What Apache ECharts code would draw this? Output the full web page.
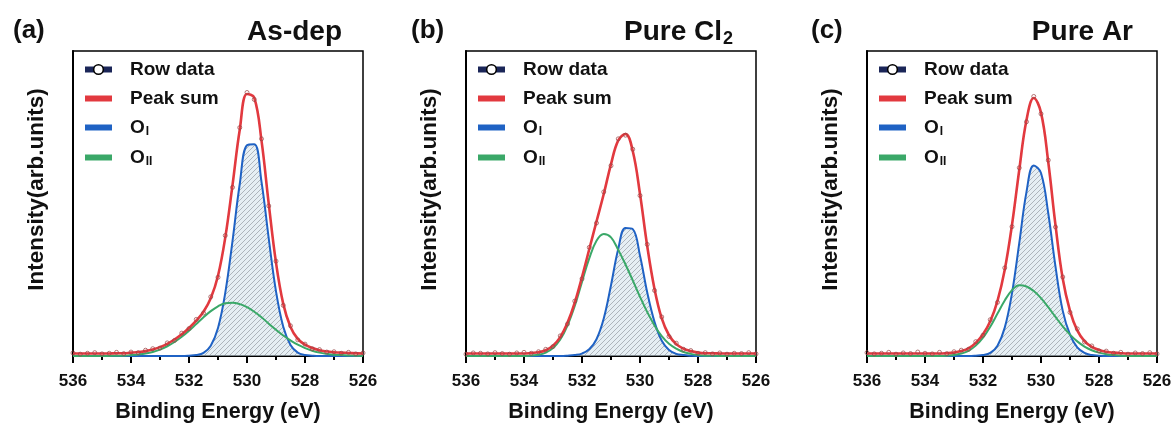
<!DOCTYPE html>
<html>
<head>
<meta charset="utf-8">
<script src="https://cdn.jsdelivr.net/npm/echarts@6/dist/echarts.min.js"></script>
<style>
  html, body { margin: 0; padding: 0; background: #fff; }
  #main { width: 1175px; height: 428px; }
</style>
</head>
<body>
<div id="main"></div>
<script>
// binding energy grid (eV), same for the three panels
const energy = [536, 535.75, 535.5, 535.25, 535, 534.75, 534.5, 534.25, 534, 533.75,
  533.5, 533.25, 533, 532.75, 532.5, 532.25, 532, 531.75, 531.5, 531.25,
  531, 530.75, 530.5, 530.25, 530, 529.75, 529.5, 529.25, 529, 528.75,
  528.5, 528.25, 528, 527.75, 527.5, 527.25, 527, 526.75, 526.5, 526.25, 526];

// (a) As-dep
const rawA = [1.0, 0.6, 0.9, 1.1, 0.7, 0.9, 1.2, 0.8, 1.3, 1.1, 1.9, 2.4, 2.6, 4.3, 5.1, 7.5, 9.0, 12.0, 14.1, 19.4,
  25.8, 39.5, 55.3, 74.9, 86.4, 84.1, 71.2, 49.2, 31.1, 16.6, 9.9, 5.3, 3.9, 2.4, 2.1, 1.3, 1.4, 0.9, 1.2, 0.7, 1.0];
const sumA = [0.8, 0.8, 0.8, 0.8, 0.8, 0.8, 0.9, 0.9, 1.1, 1.3, 1.6, 2.1, 2.9, 4.0, 5.4, 7.1, 9.2, 11.6, 14.5, 18.9,
  26.3, 38.8, 56.0, 74.2, 85.9, 84.7, 70.6, 49.9, 30.6, 17.1, 9.5, 5.6, 3.7, 2.6, 1.9, 1.5, 1.2, 1.1, 1.0, 0.9, 0.8];
const oIA = [0, 0, 0, 0, 0, 0, 0, 0, 0, 0, 0, 0, 0, 0, 0, 0, 0.1, 0.3, 1.0, 3.4,
  9.2, 20.7, 37.7, 56.4, 69.1, 69.4, 57.1, 38.5, 21.2, 9.6, 3.6, 1.1, 0.3, 0.1, 0, 0, 0, 0, 0, 0, 0];
const oIIA = [0, 0, 0, 0, 0, 0, 0.1, 0.1, 0.3, 0.5, 0.8, 1.3, 2.1, 3.2, 4.6, 6.3, 8.3, 10.5, 12.7, 14.7,
  16.3, 17.3, 17.5, 17.0, 16.0, 14.5, 12.7, 10.6, 8.6, 6.7, 5.1, 3.7, 2.6, 1.7, 1.1, 0.7, 0.4, 0.3, 0.2, 0.1, 0];

// (b) Pure Cl2
const rawB = [0.6, 1.0, 0.9, 0.7, 1.1, 0.8, 0.6, 1.0, 1.2, 0.9, 1.4, 2.2, 3.1, 6.6, 10.5, 18.0, 25.3, 35.6, 43.6, 53.8,
  62.4, 71.2, 72.4, 67.8, 52.6, 36.6, 21.5, 12.8, 6.4, 4.2, 2.2, 1.8, 0.9, 1.1, 0.7, 1.0, 0.6, 0.9, 0.8, 1.1, 0.7];
const sumB = [0.8, 0.8, 0.8, 0.8, 0.8, 0.8, 0.8, 0.8, 0.8, 1.0, 1.2, 1.9, 3.4, 6.2, 10.9, 17.5, 25.9, 35.0, 44.1, 53.1,
  62.9, 70.7, 72.8, 67.2, 53.1, 36.0, 22.0, 12.3, 6.8, 3.9, 2.4, 1.6, 1.1, 0.9, 0.9, 0.8, 0.8, 0.8, 0.8, 0.8, 0.8];
const oIB = [0, 0, 0, 0, 0, 0, 0, 0, 0, 0, 0, 0, 0, 0, 0.1, 0.3, 0.8, 2.2, 5.5, 12.3,
  23.2, 35.1, 42.0, 41.6, 32.9, 20.8, 11.2, 5.0, 2.0, 0.7, 0.3, 0.1, 0, 0, 0, 0, 0, 0, 0, 0, 0];
const oIIB = [0, 0, 0, 0, 0, 0, 0, 0, 0, 0.2, 0.4, 1.1, 2.6, 5.4, 10.0, 16.4, 24.3, 32.0, 37.8, 40.0,
  38.9, 34.8, 30.0, 24.8, 19.4, 14.4, 10.0, 6.5, 4.0, 2.4, 1.3, 0.7, 0.3, 0.1, 0.1, 0, 0, 0, 0, 0, 0];

// (c) Pure Ar
const rawC = [1.1, 0.7, 0.9, 1.2, 0.6, 1.0, 0.8, 1.3, 0.9, 0.7, 1.2, 0.8, 1.4, 1.9, 2.2, 4.7, 6.8, 11.9, 17.6, 28.9,
  42.4, 61.7, 76.8, 85.1, 79.4, 64.2, 42.3, 25.9, 14.3, 8.9, 4.6, 3.3, 1.7, 1.6, 0.9, 1.2, 0.6, 1.0, 0.8, 1.1, 0.7];
const sumC = [0.8, 0.8, 0.8, 0.8, 0.8, 0.8, 0.8, 0.8, 0.8, 0.8, 0.8, 0.9, 1.1, 1.6, 2.5, 4.3, 7.1, 11.4, 18.1, 28.3,
  43.0, 61.0, 77.4, 84.6, 79.8, 63.6, 42.9, 25.3, 14.8, 8.4, 4.9, 3.0, 2.0, 1.4, 1.1, 0.9, 0.8, 0.8, 0.8, 0.8, 0.8];
const oIC = [0, 0, 0, 0, 0, 0, 0, 0, 0, 0, 0, 0, 0, 0, 0, 0.1, 0.3, 1.0, 3.4, 9.3,
  20.6, 37.0, 53.8, 62.5, 60.0, 46.8, 29.3, 14.8, 7.0, 2.8, 1.0, 0.3, 0.1, 0, 0, 0, 0, 0, 0, 0, 0];
const oIIC = [0, 0, 0, 0, 0, 0, 0, 0, 0, 0, 0, 0.1, 0.3, 0.8, 1.7, 3.4, 6.0, 9.6, 13.9, 18.2,
  21.6, 23.2, 22.8, 21.3, 19.0, 16.0, 12.8, 9.7, 7.0, 4.8, 3.1, 1.9, 1.1, 0.6, 0.3, 0.1, 0, 0, 0, 0, 0];

const panels = [
  { tag: '(a)', title: '{t|As-dep}', raw: rawA, sum: sumA, oI: oIA, oII: oIIA },
  { tag: '(b)', title: '{t|Pure Cl}{s|2}', raw: rawB, sum: sumB, oI: oIB, oII: oIIB },
  { tag: '(c)', title: '{t|Pure Ar}', raw: rawC, sum: sumC, oI: oIC, oII: oIIC }
];

const FONT = '"Liberation Sans", Arial, Helvetica, sans-serif';
const RED = '#e2393f', BLUE = '#1f62c4', GREEN = '#3aa868', NAVY = '#1b2658';
const lefts = [73, 466, 867];
const tagLefts = [8, 406, 806];
const titleRights = [828, 437, 37];

// diagonal hatch for the O_I area
function hatch() {
  const c = document.createElement('canvas');
  c.width = 5; c.height = 5;
  const g = c.getContext('2d');
  g.fillStyle = 'rgba(214,228,236,0.6)';
  g.fillRect(0, 0, 5, 5);
  g.strokeStyle = 'rgba(105,112,122,0.65)';
  g.lineWidth = 0.7;
  g.beginPath();
  g.moveTo(0, 5); g.lineTo(5, 0);
  g.moveTo(-1, 1); g.lineTo(1, -1);
  g.moveTo(4, 6); g.lineTo(6, 4);
  g.stroke();
  return c;
}
const hatchImg = hatch();

function pts(ys) { return energy.map((x, i) => [x, ys[i]]); }

const chart = echarts.init(document.getElementById('main'));

const grid = [], xAxis = [], yAxis = [], series = [], legend = [], title = [];
panels.forEach((p, i) => {
  grid.push({ left: lefts[i], top: 51, width: 290, height: 307, show: true,
    borderColor: '#000', borderWidth: 1.5, backgroundColor: 'transparent' });
  xAxis.push({
    type: 'value', gridIndex: i, min: 526, max: 536, interval: 2, inverse: true,
    name: 'Binding Energy (eV)', nameLocation: 'middle', nameGap: 45,
    nameTextStyle: { fontFamily: FONT, fontWeight: 'bold', fontSize: 21.5, color: '#111' },
    axisLine: { lineStyle: { color: '#000', width: 2 } },
    axisTick: { length: 7, lineStyle: { color: '#000', width: 2 } },
    minorTick: { show: true, splitNumber: 2, length: 4, lineStyle: { color: '#000', width: 2 } },
    splitLine: { show: false },
    axisLabel: { fontFamily: FONT, fontWeight: 'bold', fontSize: 17, color: '#111', margin: 17 }
  });
  yAxis.push({
    type: 'value', gridIndex: i, min: 0, max: 100,
    name: 'Intensity(arb.units)', nameLocation: 'middle', nameGap: 25,
    nameTextStyle: { fontFamily: FONT, fontWeight: 'bold', fontSize: 22.5, color: '#111', padding: [0, 0, 0, 28] },
    axisLine: { show: true, lineStyle: { color: '#000', width: 2 } },
    axisTick: { show: false }, axisLabel: { show: false }, splitLine: { show: false }
  });
  const common = { xAxisIndex: i, yAxisIndex: i, symbol: 'none', smooth: 0.4, animation: false };
  series.push(
    Object.assign({ name: 'OI', type: 'line', data: pts(p.oI), z: 2,
      lineStyle: { color: BLUE, width: 2 }, itemStyle: { color: BLUE },
      areaStyle: { color: { image: hatchImg, repeat: 'repeat' }, opacity: 1 } }, common),
    Object.assign({ name: 'OII', type: 'line', data: pts(p.oII), z: 3,
      lineStyle: { color: GREEN, width: 2 }, itemStyle: { color: GREEN } }, common),
    Object.assign({ name: 'Peak sum', type: 'line', data: pts(p.sum), z: 4,
      lineStyle: { color: RED, width: 2.6 }, itemStyle: { color: RED } }, common),
    { name: 'Row data', type: 'line', xAxisIndex: i, yAxisIndex: i, data: pts(p.raw), z: 5,
      animation: false, symbol: 'circle', symbolSize: 4, showSymbol: true,
      lineStyle: { opacity: 0 },
      itemStyle: { color: 'rgba(255,255,255,0)', borderColor: 'rgba(150,70,70,0.8)', borderWidth: 0.9 } }
  );
  legend.push({
    orient: 'vertical', left: lefts[i] + 9, top: 60, padding: 0,
    itemWidth: 27, itemHeight: 12, itemGap: 10,
    selectedMode: false,
    data: [
      { name: 'Row data', lineStyle: { color: NAVY, width: 6, opacity: 1 },
        itemStyle: { color: '#fff', borderColor: '#000', borderWidth: 1.5, opacity: 1 } },
      { name: 'Peak sum', lineStyle: { color: RED, width: 6 }, itemStyle: { opacity: 0 } },
      { name: 'OI', lineStyle: { color: BLUE, width: 6 }, itemStyle: { opacity: 0 } },
      { name: 'OII', lineStyle: { color: GREEN, width: 6 }, itemStyle: { opacity: 0 } }
    ],
    formatter: name => name === 'OI' ? '{o|O}{s|I}' : name === 'OII' ? '{o|O}{s|II}' : '{o|' + name + '}',
    textStyle: {
      fontFamily: FONT, fontWeight: 'bold', fontSize: 19, color: '#111', padding: [0, 0, 0, 13],
      rich: {
        o: { fontFamily: FONT, fontWeight: 'bold', fontSize: 19, color: '#111', height: 20 },
        s: { fontFamily: FONT, fontWeight: 'bold', fontSize: 12, color: '#111', verticalAlign: 'bottom', height: 20, padding: [9, 0, 0, 1] }
      }
    }
  });
  title.push(
    { text: p.tag, left: tagLefts[i], top: 13,
      textStyle: { fontFamily: FONT, fontWeight: 'bold', fontSize: 26, color: '#111' } },
    { text: p.title, right: titleRights[i], top: 11,
      textStyle: { fontFamily: FONT, fontWeight: 'bold', fontSize: 28, color: '#111',
        rich: {
          t: { fontFamily: FONT, fontWeight: 'bold', fontSize: 28, color: '#111', lineHeight: 32 },
          s: { fontFamily: FONT, fontWeight: 'bold', fontSize: 18, color: '#111', verticalAlign: 'bottom', lineHeight: 32, padding: [12, 0, 0, 1] }
        } } }
  );
});

chart.setOption({
  animation: false,
  backgroundColor: '#fff',
  title: title,
  legend: legend,
  grid: grid,
  xAxis: xAxis,
  yAxis: yAxis,
  series: series
});
</script>
</body>
</html>
